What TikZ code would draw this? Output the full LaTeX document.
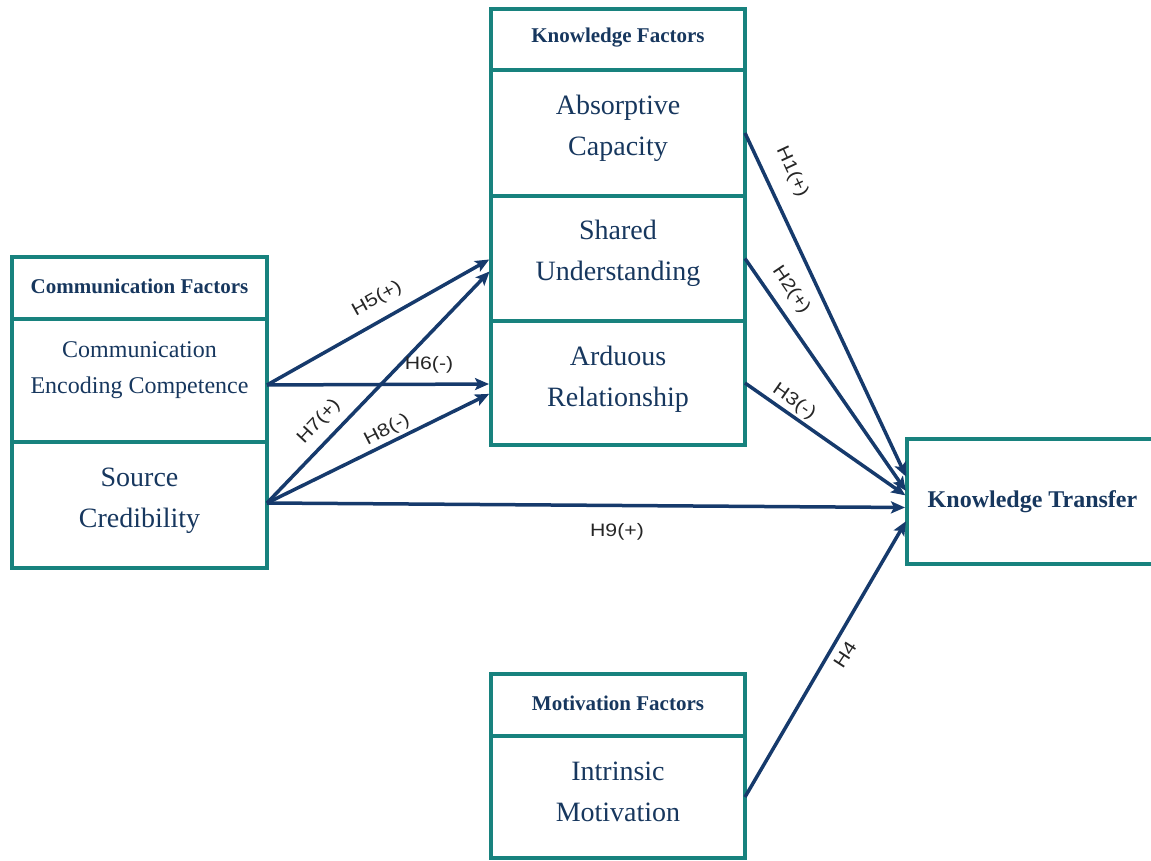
\documentclass[tikz,border=0pt]{standalone}
\usepackage{fontspec}
\setmainfont{Liberation Serif}
\newfontfamily\labfont[FakeStretch=1.18]{Liberation Sans}
\usetikzlibrary{arrows.meta}
\definecolor{boxteal}{RGB}{24,130,126}
\definecolor{inknavy}{RGB}{23,55,94}
\definecolor{arrownavy}{RGB}{22,58,108}
\begin{document}
\begin{tikzpicture}[x=1pt,y=-1pt,
  box/.style={draw=boxteal, line width=4pt, minimum width=254pt, inner sep=0pt, outer sep=0pt},
  head/.style={font=\fontsize{21}{25}\selectfont\bfseries, text=inknavy, inner sep=0pt},
  body/.style={font=\fontsize{28}{41}\selectfont, text=inknavy, align=center, inner sep=0pt},
  link/.style={draw=arrownavy, line width=3.5pt, shorten >=2pt,
    -{Stealth[length=14pt,width=12pt,inset=3pt]}},
  lab/.style={font=\labfont\fontsize{18}{20}\selectfont, text=black!85, inner sep=0pt}]
\useasboundingbox (0,0) rectangle (1151,861);
\clip (0,0) rectangle (1151,861);

% knowledge factors column
\node[box, minimum height=61pt] (kf) at (618,39.5) {};
\node[box, minimum height=126pt] (ac) at (618,133) {};
\node[box, minimum height=125pt] (su) at (618,258.5) {};
\node[box, minimum height=124pt] (ar) at (618,383) {};
\node[head] (kf-t) at (618,38) {Knowledge Factors};
\node[body] (ac-t) at (618,128) {Absorptive\\Capacity};
\node[body] (su-t) at (618,253) {Shared\\Understanding};
\node[body] (ar-t) at (618,379) {Arduous\\Relationship};

% communication factors column
\node[box, minimum width=255pt, minimum height=62pt] (cf) at (139.5,288) {};
\node[box, minimum width=255pt, minimum height=123pt] (cec) at (139.5,380.5) {};
\node[box, minimum width=255pt, minimum height=126pt] (sc) at (139.5,505) {};
\node[head] (cf-t) at (139.5,286) {Communication Factors};
\node[body, font=\fontsize{24}{36}\selectfont] (cec-t) at (139.5,370) {Communication\\Encoding Competence};
\node[body] (sc-t) at (139.5,501) {Source\\Credibility};

% motivation factors column
\node[box, minimum height=62pt] (mf) at (618,705) {};
\node[box, minimum height=122pt] (im) at (618,797) {};
\node[head] (mf-t) at (618,703) {Motivation Factors};
\node[body] (im-t) at (618,792) {Intrinsic\\Motivation};

% outcome
\node[box, minimum width=253pt, minimum height=125pt] (kt) at (1033.5,501.5) {};
\node[head, font=\fontsize{24}{28}\selectfont\bfseries] (kt-t) at (1032.5,502) {Knowledge Transfer};

% hypothesised paths
\draw[link] ([yshift=-4.5pt]cec.east) -- (su.west);
\draw[link] ([yshift=-4.5pt]cec.east) -- ([yshift=-1pt]ar.west);
\draw[link] ([yshift=2pt]sc.east) -- ([yshift=-11.5pt]su.west);
\draw[link] ([yshift=2pt]sc.east) -- ([yshift=-10pt]ar.west);
\draw[link] ([yshift=2pt]sc.east) -- ([yshift=-6pt]kt.west);
\draw[link] (ac.east) -- ([yshift=23pt]kt.west);
\draw[link] (su.east) -- ([yshift=9pt]kt.west);
\draw[link] (ar.east) -- ([yshift=5pt]kt.west);
\draw[link] (im.east) -- ([yshift=-18pt]kt.west);

% path labels
\node[lab, rotate=29] (h5) at (377,299) {H5(+)};
\node[lab] (h6) at (429,365) {H6(-)};
\node[lab, rotate=47] (h7) at (319,422) {H7(+)};
\node[lab, rotate=27] (h8) at (387,430) {H8(-)};
\node[lab] (h9) at (617,532) {H9(+)};
\node[lab, rotate=-65] (h1) at (792,172) {H1(+)};
\node[lab, rotate=-56] (h2) at (791,290) {H2(+)};
\node[lab, rotate=-35] (h3) at (794,402) {H3(-)};
\node[lab, rotate=57] (h4) at (845,655) {H4};
\end{tikzpicture}
\end{document}
